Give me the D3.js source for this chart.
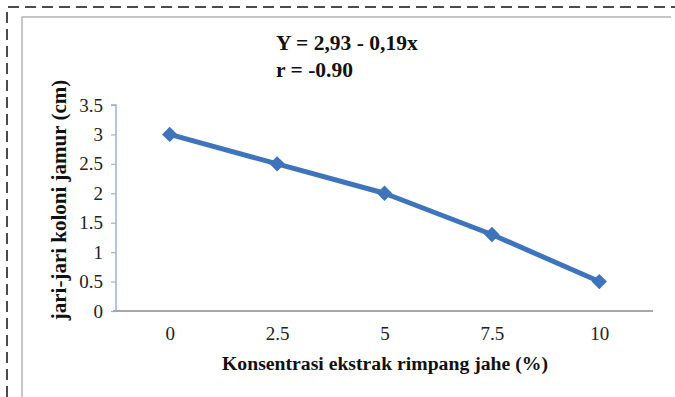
<!DOCTYPE html>
<html>
<head>
<meta charset="utf-8">
<script src="https://cdn.jsdelivr.net/npm/d3@7"></script>
<style>
  body { margin: 0; background: #fff; }
  svg { display: block; }
  text { font-family: "Liberation Serif", "DejaVu Serif", serif; }
</style>
</head>
<body>
<script>
// data
const concentrations = ["0", "2.5", "5", "7.5", "10"];
const radius = [3.0, 2.5, 2.0, 1.3, 0.5];
const yTicks = [0, 0.5, 1, 1.5, 2, 2.5, 3, 3.5];
const equation = ["Y = 2,93 - 0,19x", "r = -0.90"];

const W = 675, H = 397;
const margin = {top: 105, right: 22, bottom: 86, left: 116};
const plotRight = 653;

const svg = d3.select("body").append("svg")
    .attr("width", W)
    .attr("height", H);

svg.append("rect").attr("width", W).attr("height", H).attr("fill", "#fff");

// dashed outer border (top and left only visible)
svg.append("path")
    .attr("d", "M7," + H + " V7 H" + W)
    .attr("fill", "none")
    .attr("stroke", "#111")
    .attr("stroke-width", 1.5)
    .attr("stroke-dasharray", "11,6");

// gray chart frame
svg.append("path")
    .attr("d", "M22," + H + " V17 H671")
    .attr("fill", "none")
    .attr("stroke", "#b4b4b4")
    .attr("stroke-width", 1.5);

const x = d3.scalePoint()
    .domain(concentrations)
    .range([margin.left, plotRight])
    .padding(0.5);

const y = d3.scaleLinear()
    .domain([0, 3.5])
    .range([H - margin.bottom, margin.top]);

// y axis
const yAxis = svg.append("g")
    .attr("transform", "translate(" + margin.left + ",0)")
    .call(d3.axisLeft(y).tickValues(yTicks).tickSize(5).tickPadding(8)
        .tickFormat(d => String(d)));
yAxis.attr("font-family", null).attr("font-size", null);
yAxis.select(".domain").attr("stroke", "#9fb1cc").attr("stroke-width", 1.5)
    .attr("d", "M-5," + y(3.5) + "H0V" + y(0));
yAxis.selectAll(".tick line").attr("stroke", "#9fb1cc").attr("stroke-width", 1.2);
yAxis.selectAll(".tick text")
    .style("font-size", "19px")
    .attr("fill", "#222");

// x axis
const xAxis = svg.append("g")
    .attr("transform", "translate(0," + y(0) + ")")
    .call(d3.axisBottom(x).tickSize(0).tickPadding(16));
xAxis.attr("font-family", null).attr("font-size", null);
xAxis.select(".domain")
    .attr("d", "M" + (margin.left - 3) + ",0H" + plotRight)
    .attr("stroke", "#a8a8a8")
    .attr("stroke-width", 2.2);
xAxis.selectAll(".tick text")
    .style("font-size", "19px")
    .attr("fill", "#222");

// line
const color = "#3d74bb";
const line = d3.line()
    .x((d, i) => x(concentrations[i]))
    .y(d => y(d));

svg.append("path")
    .datum(radius)
    .attr("d", line)
    .attr("fill", "none")
    .attr("stroke", color)
    .attr("stroke-width", 5)
    .attr("stroke-linejoin", "round");

svg.selectAll("path.marker")
    .data(radius)
    .enter()
    .append("path")
    .attr("class", "marker")
    .attr("d", d3.symbol(d3.symbolDiamond2, 150))
    .attr("transform", (d, i) => "translate(" + x(concentrations[i]) + "," + y(d) + ")")
    .attr("fill", color);

// equation text
svg.selectAll("text.eq")
    .data(equation)
    .enter()
    .append("text")
    .attr("class", "eq")
    .attr("x", 276)
    .attr("y", (d, i) => 50 + i * 27)
    .style("font-weight", "bold")
    .style("font-size", "21.5px")
    .attr("fill", "#111")
    .text(d => d);

// axis titles
svg.append("text")
    .attr("x", 385)
    .attr("y", 370)
    .attr("text-anchor", "middle")
    .style("font-weight", "bold")
    .style("font-size", "19.7px")
    .attr("fill", "#111")
    .text("Konsentrasi ekstrak rimpang jahe (%)");

svg.append("text")
    .attr("transform", "translate(66,200) rotate(-90)")
    .attr("text-anchor", "middle")
    .style("font-weight", "bold")
    .style("font-size", "21px")
    .attr("fill", "#111")
    .text("jari-jari koloni jamur (cm)");
</script>
</body>
</html>
